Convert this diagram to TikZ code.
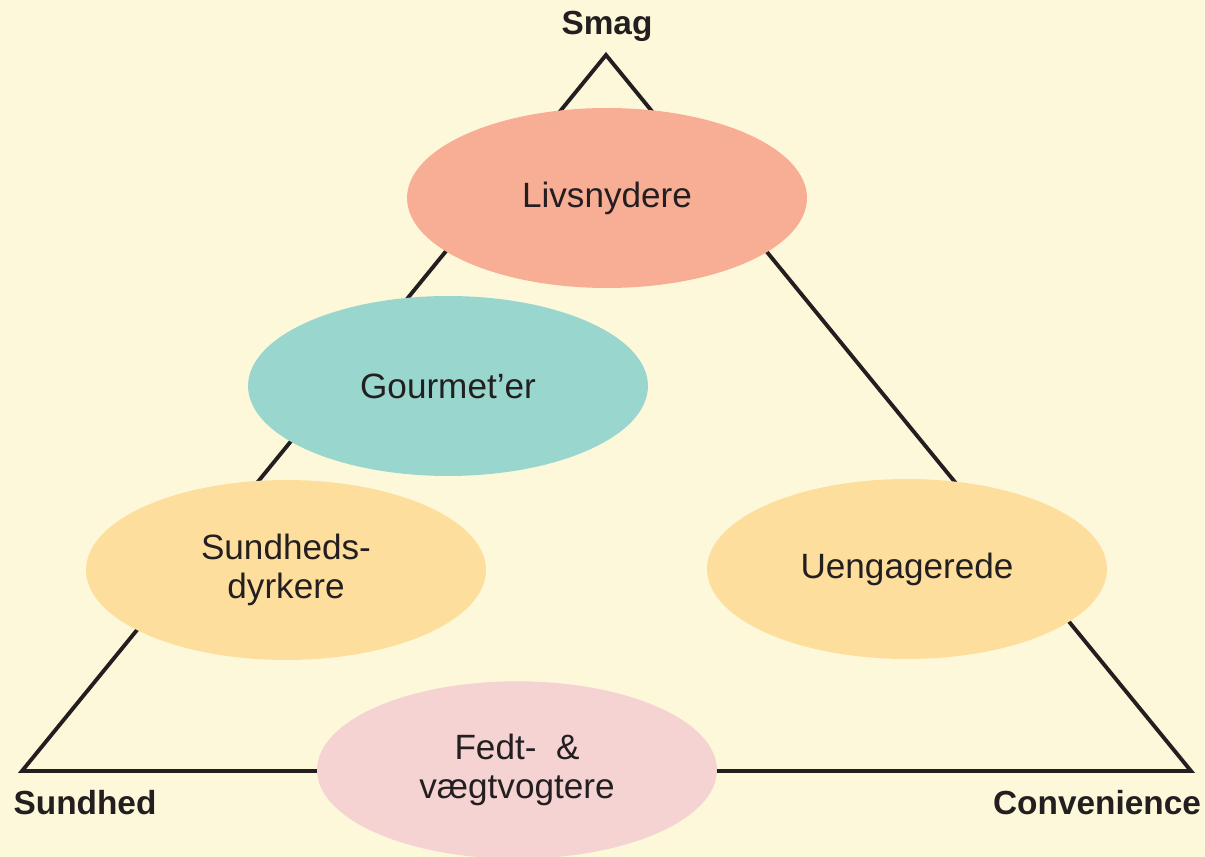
\documentclass[tikz,border=0pt]{standalone}
\usepackage{fontspec}
\setmainfont{Liberation Sans}
\usetikzlibrary{shapes.geometric}
\definecolor{cream}{HTML}{FEF8DA}
\definecolor{salmon}{HTML}{F8AE95}
\definecolor{tealish}{HTML}{98D6CE}
\definecolor{apricot}{HTML}{FDDE9D}
\definecolor{blush}{HTML}{F5D3D2}
\definecolor{ink}{HTML}{231F20}
\tikzset{
  segment/.style={ellipse,inner sep=0pt,minimum width=8cm,minimum height=3.6cm,
    align=center,text=ink,font=\fontsize{20}{22.5}\selectfont},
  corner/.style={text=ink,font=\bfseries\fontsize{19}{22}\selectfont}
}
\begin{document}
\begin{tikzpicture}[x=0.02cm,y=-0.02cm]
	\fill[color=cream] (0,0) rectangle (1205,857);
	\useasboundingbox (0,0) rectangle (1205,857);
	% triangle
	\coordinate (top) at (606,55);
	\coordinate (left) at (22,771);
	\coordinate (right) at (1191,771);
	\draw[color=ink,line width=2.2pt,line join=miter] (top) -- (right) -- (left) -- cycle;
	\node[corner] (smag) at (607,26) {Smag};
	\node[corner] (sundhed) at (85,803) {Sundhed};
	\node[corner] (conv) at (1097,803) {Convenience};
	% segments
	\node[segment,fill=salmon] (livs) at (607,198) {Livsnydere};
	\node[segment,fill=tealish] (gourmet) at (448,386) {Gourmet’er};
	\node[segment,fill=apricot] (sund) at (286,570) {Sundheds-\\dyrkere};
	\node[segment,fill=apricot] (ueng) at (907,569) {Uengagerede};
	\node[segment,fill=blush,minimum height=3.55cm] (fedt) at (517,770) {Fedt-~~\&\\vægtvogtere};
\end{tikzpicture}
\end{document}
